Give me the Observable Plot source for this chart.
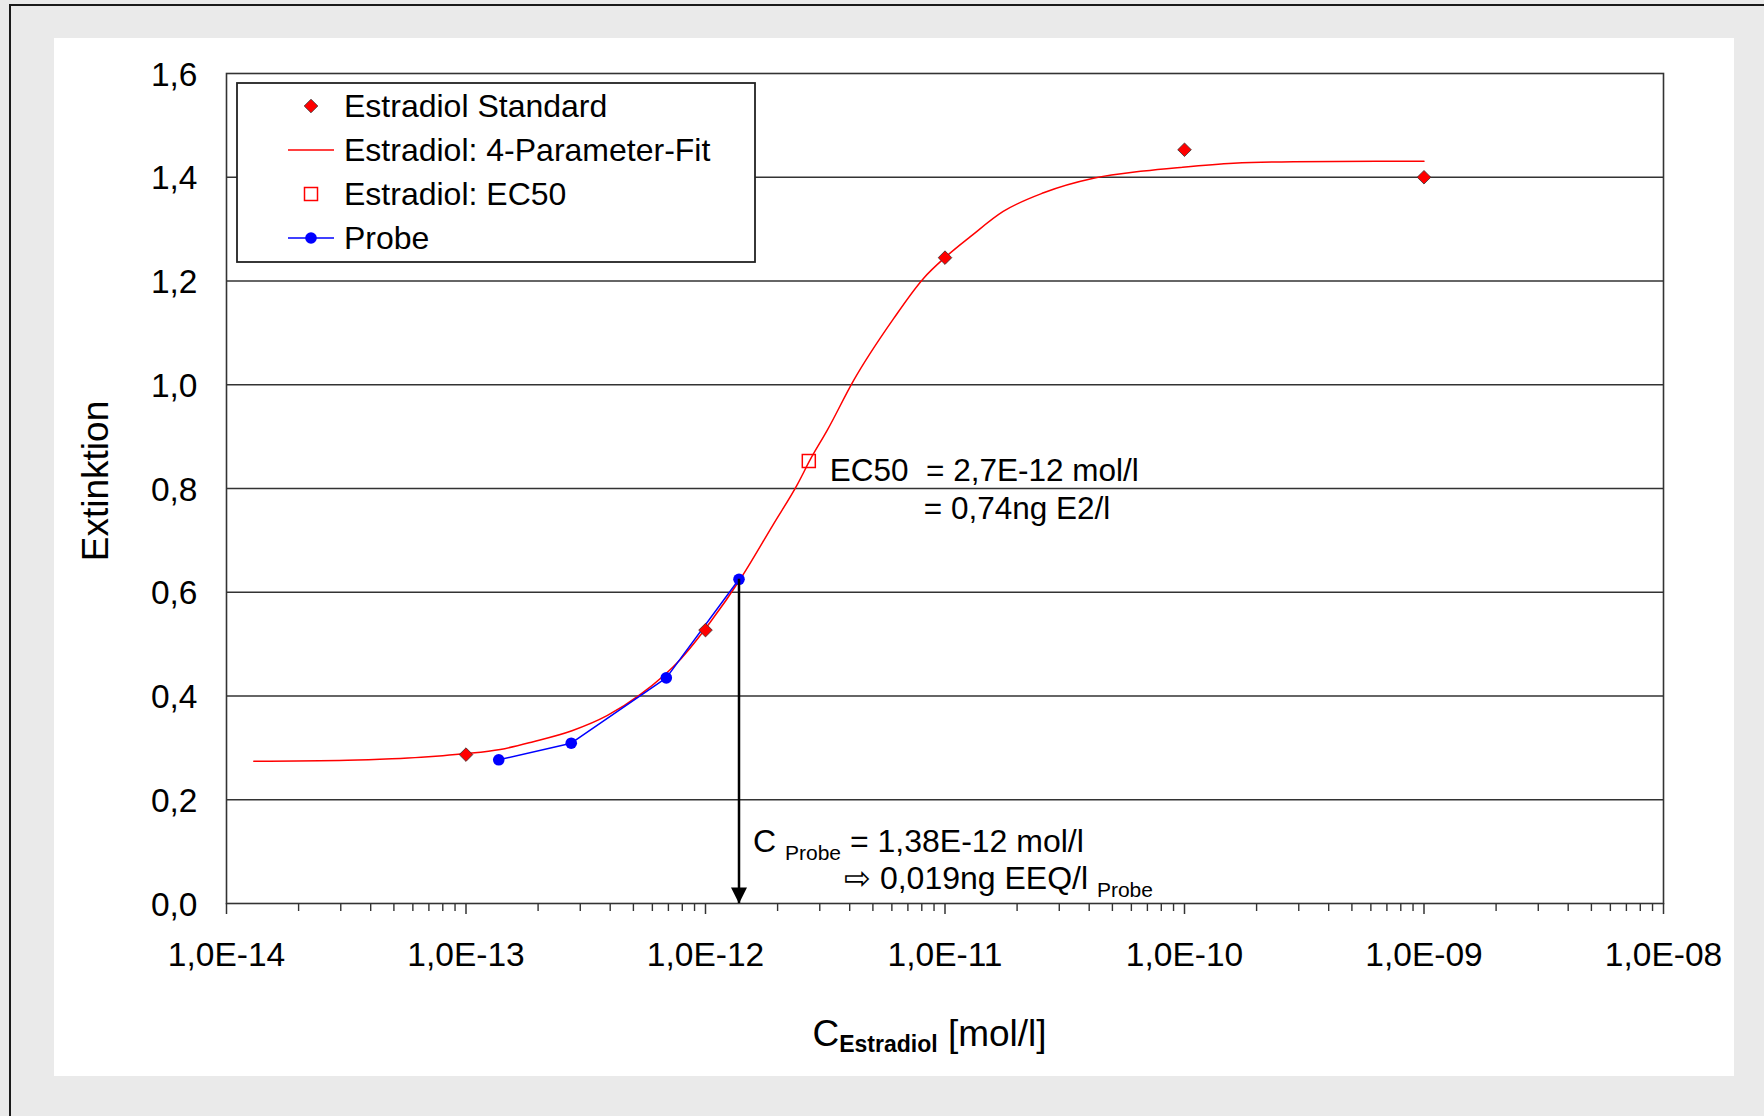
<!DOCTYPE html>
<html><head><meta charset="utf-8">
<script src="https://cdn.jsdelivr.net/npm/d3@7"></script>
<script src="https://cdn.jsdelivr.net/npm/@observablehq/plot@0.6"></script>
<style>
html,body{margin:0;padding:0}
body{width:1764px;height:1116px;background:#eaeaea;position:relative;overflow:hidden;font-family:"Liberation Sans",Arial,sans-serif}
#frame{position:absolute;left:9px;top:4px;width:1800px;height:1200px;border-left:2px solid #1a1a1a;border-top:2px solid #1a1a1a}
#panel{position:absolute;left:54px;top:38px;width:1680px;height:1038px;background:#fff}
#legend{position:absolute;left:236px;top:82px;line-height:0}
</style></head><body>
<div id="frame"></div>
<div id="panel"></div>
<div id="legend"></div>
<script>
// ---- data ----
const stdConc = [1e-13, 1e-12, 1e-11, 1e-10, 1e-9];
const stdExt = [0.287, 0.527, 1.245, 1.453, 1.400];

const fitConc = [1.3e-14, 3.2e-14, 4.9e-14, 6.5e-14, 8.0e-14, 1.0e-13, 1.39e-13, 1.91e-13, 2.77e-13, 3.88e-13, 5.35e-13, 7.87e-13, 1.05e-12, 1.4e-12, 1.92e-12, 2.42e-12, 2.74e-12, 3.23e-12, 4.15e-12, 6.09e-12, 8.13e-12, 1.01e-11, 1.28e-11, 1.75e-11, 2.58e-11, 4.17e-11, 6.74e-11, 9.6e-11, 1.6e-10, 2.85e-10, 1.0e-9];
const fitExt = [0.274, 0.276, 0.279, 0.282, 0.285, 0.289, 0.297, 0.312, 0.333, 0.362, 0.403, 0.471, 0.543, 0.626, 0.731, 0.808, 0.856, 0.913, 1.008, 1.127, 1.205, 1.247, 1.286, 1.334, 1.370, 1.398, 1.412, 1.419, 1.427, 1.430, 1.431];

const ec50Conc = [2.7e-12];
const ec50Ext = [0.853];

const probeConc = [1.37e-13, 2.75e-13, 6.86e-13, 1.38e-12];
const probeExt = [0.277, 0.309, 0.435, 0.625];

const xTicks = [1e-14, 1e-13, 1e-12, 1e-11, 1e-10, 1e-9, 1e-8];
const xTickLabels = ["1,0E-14", "1,0E-13", "1,0E-12", "1,0E-11", "1,0E-10", "1,0E-09", "1,0E-08"];
const yTicks = [0, 0.2, 0.4, 0.6, 0.8, 1.0, 1.2, 1.4, 1.6];
const yTickLabels = ["0,0", "0,2", "0,4", "0,6", "0,8", "1,0", "1,2", "1,4", "1,6"];

const legendLabels = ["Estradiol Standard", "Estradiol: 4-Parameter-Fit", "Estradiol: EC50", "Probe"];
const yTitle = "Extinktion";
const xTitle = "C_{Estradiol} [mol/l]";
const ec50Lines = ["EC50\u00a0 = 2,7E-12 mol/l", "= 0,74ng E2/l"];
const probeLines = ["C _{Probe} = 1,38E-12 mol/l", "\u21E8 0,019ng EEQ/l _{Probe}"];

// ---- tables ----
const std = stdConc.map((x, i) => ({x, y: stdExt[i]}));
const fit = fitConc.map((x, i) => ({x, y: fitExt[i]}));
const ec50 = ec50Conc.map((x, i) => ({x, y: ec50Ext[i]}));
const probe = probeConc.map((x, i) => ({x, y: probeExt[i]}));
const probeResult = [probe[probe.length - 1]];

const minorTicks = [];
for (let i = 0; i < xTicks.length - 1; i++) for (let k = 2; k <= 9; k++) minorTicks.push(k * xTicks[i]);
const xLabelMap = new Map(xTicks.map((v, i) => [v, xTickLabels[i]]));
const yLabelMap = new Map(yTicks.map((v, i) => [v, yTickLabels[i]]));

// ---- symbols ----
const diamond = {draw(ctx, size) {const h = Math.sqrt(size / Math.PI); ctx.moveTo(0, -h); ctx.lineTo(h, 0); ctx.lineTo(0, h); ctx.lineTo(-h, 0); ctx.closePath();}};
const squareSym = {draw(ctx, size) {const h = Math.sqrt(size / Math.PI); ctx.moveTo(-h, -h); ctx.lineTo(h, -h); ctx.lineTo(h, h); ctx.lineTo(-h, h); ctx.closePath();}};
const arrowHead = {draw(ctx, size) {const h = Math.sqrt(size / Math.PI); const w = h * 0.5; ctx.moveTo(0, 0); ctx.lineTo(-w, -h); ctx.lineTo(w, -h); ctx.closePath();}};

const FONT = '"Liberation Sans", Arial, Helvetica, sans-serif';
const GRID = "#333";

const chart = Plot.plot({
  width: 1680, height: 1038,
  marginLeft: 172, marginRight: 71, marginTop: 35, marginBottom: 173,
  style: {fontFamily: FONT, fontSize: "33.5px", color: "#000", background: "transparent", overflow: "visible"},
  x: {type: "log", domain: [1e-14, 1e-8]},
  y: {domain: [0, 1.6]},
  marks: [
    Plot.gridY(yTicks.slice(1, -1), {stroke: GRID, strokeOpacity: 1, strokeWidth: 1.6}),
    Plot.axisY(yTicks, {tickSize: 0, tickPadding: 29, tickFormat: d => yLabelMap.get(d), label: null, dy: 1.5}),
    Plot.axisX(minorTicks, {tickSize: 8, tickFormat: () => "", label: null, stroke: GRID, strokeWidth: 1.4}),
    Plot.axisX(xTicks, {tickSize: 11, tickPadding: 28, tickFormat: d => xLabelMap.get(d), label: null, stroke: GRID, strokeWidth: 1.5}),
    Plot.frame({stroke: GRID, strokeWidth: 1.6}),
    Plot.line(fit, {x: "x", y: "y", stroke: "#ff0000", strokeWidth: 1.5, curve: "monotone-x"}),
    Plot.line(probe, {x: "x", y: "y", stroke: "#0000ff", strokeWidth: 1.5}),
    Plot.dot(std, {x: "x", y: "y", symbol: diamond, r: 6.8, fill: "#ff0000", stroke: "#333", strokeWidth: 0.8}),
    Plot.dot(ec50, {x: "x", y: "y", symbol: squareSym, r: 6.5, fill: "none", stroke: "#ff0000", strokeWidth: 1.5}),
    Plot.dot(probe, {x: "x", y: "y", r: 5.8, fill: "#0000ff"}),
    Plot.ruleX(probeResult, {x: "x", y1: "y", y2: 0, stroke: "#000", strokeWidth: 2.5}),
    Plot.dot(probeResult, {x: "x", y: 0, symbol: arrowHead, r: 16, fill: "#000", stroke: "none"}),
    Plot.text(ec50, {x: "x", y: "y", text: () => ec50Lines[0], textAnchor: "start", lineAnchor: "bottom", dx: 21, dy: 20, fontSize: 31.5}),
    Plot.text(ec50, {x: "x", y: "y", text: () => ec50Lines[1], textAnchor: "start", lineAnchor: "bottom", dx: 115, dy: 58, fontSize: 31.5}),
    Plot.text(probeResult, {x: "x", y: 0, text: () => probeLines[0], textAnchor: "start", lineAnchor: "bottom", dx: 14, dy: -52, fontSize: 32}),
    Plot.text(probeResult, {x: "x", y: 0, text: () => probeLines[1], textAnchor: "start", lineAnchor: "bottom", dx: 105, dy: -15, fontSize: 32}),
    Plot.text([xTitle], {frameAnchor: "bottom", text: d => d, textAnchor: "start", lineAnchor: "bottom", dx: -132.5, dy: 142, fontSize: 37}),
    Plot.text([yTitle], {frameAnchor: "left", text: d => d, textAnchor: "middle", rotate: -90, dx: -130, dy: -7.5, fontSize: 37})
  ]
});
document.getElementById("panel").appendChild(chart);

// subscripts: "_{...}" -> tspan
const subStyle = {Probe: {size: 21, shift: 8, weight: "normal"}, Estradiol: {size: 23, shift: 6, weight: "bold"}};
d3.select(chart).selectAll("text").each(function () {
  const t = this.textContent;
  if (!t || !t.includes("_{")) return;
  const parts = t.split(/(_\{[^}]*\})/).filter(p => p.length);
  this.textContent = "";
  let shifted = 0;
  for (const p of parts) {
    const m = p.match(/^_\{([^}]*)\}$/);
    const ts = document.createElementNS("http://www.w3.org/2000/svg", "tspan");
    if (m) {
      const s = subStyle[m[1]] || {size: 20, shift: 7, weight: "normal"};
      ts.textContent = m[1];
      ts.setAttribute("font-size", s.size);
      ts.setAttribute("font-weight", s.weight);
      ts.setAttribute("dy", s.shift - shifted);
      shifted = s.shift;
    } else {
      ts.textContent = p;
      if (shifted) ts.setAttribute("dy", -shifted);
      shifted = 0;
    }
    this.appendChild(ts);
  }
});

// ---- legend ----
const L = d3.select("#legend").append("svg").attr("width", 520).attr("height", 181)
  .style("font-family", FONT);
L.append("rect").attr("x", 1).attr("y", 1).attr("width", 518).attr("height", 179)
  .attr("fill", "#fff").attr("stroke", "#222").attr("stroke-width", 1.8);
const rows = legendLabels.map((label, i) => ({label, cy: 24 + i * 44}));
const mx = 75;
const g0 = L.append("g");
// Estradiol Standard
g0.append("path").attr("d", `M${mx},${rows[0].cy - 6.8}L${mx + 6.8},${rows[0].cy}L${mx},${rows[0].cy + 6.8}L${mx - 6.8},${rows[0].cy}Z`)
  .attr("fill", "#ff0000").attr("stroke", "#333").attr("stroke-width", 0.8);
// Fit
g0.append("line").attr("x1", 52).attr("x2", 98).attr("y1", rows[1].cy).attr("y2", rows[1].cy).attr("stroke", "#ff0000").attr("stroke-width", 1.5);
// EC50
g0.append("rect").attr("x", mx - 6.5).attr("y", rows[2].cy - 6.5).attr("width", 13).attr("height", 13)
  .attr("fill", "none").attr("stroke", "#ff0000").attr("stroke-width", 1.5);
// Probe
g0.append("line").attr("x1", 52).attr("x2", 98).attr("y1", rows[3].cy).attr("y2", rows[3].cy).attr("stroke", "#0000ff").attr("stroke-width", 1.5);
g0.append("circle").attr("cx", mx).attr("cy", rows[3].cy).attr("r", 5.8).attr("fill", "#0000ff");
L.selectAll("text.lbl").data(rows).join("text").attr("class", "lbl")
  .attr("x", 108).attr("y", d => d.cy + 11).attr("font-size", 32).attr("fill", "#000")
  .text(d => d.label);
</script>
</body></html>
